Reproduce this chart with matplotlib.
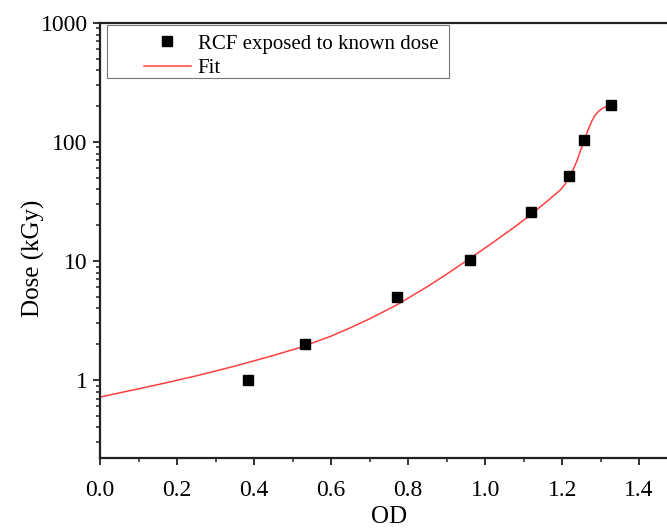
import numpy as np
import matplotlib
matplotlib.use('Agg')
import matplotlib.pyplot as plt
from matplotlib.ticker import FixedLocator, NullFormatter, LogLocator
from matplotlib.patches import Rectangle

plt.rcParams['font.family'] = ['Liberation Serif', 'DejaVu Serif']

# measured film points
od_points = [0.385, 0.532, 0.771, 0.961, 1.119, 1.218, 1.258, 1.327]
dose_points = [1.0, 2.0, 5.0, 10.3, 25.7, 51.8, 104, 205]

# fit curve
od_fit = [0.00, 0.05, 0.10, 0.17, 0.25, 0.35, 0.45, 0.52, 0.60, 0.65, 0.70,
          0.77, 0.85, 0.90, 0.96, 1.02, 1.08, 1.12, 1.16, 1.195, 1.207,
          1.218, 1.228, 1.238, 1.248, 1.258, 1.268, 1.277, 1.285, 1.295,
          1.305, 1.315, 1.327]
dose_fit = [0.72, 0.78, 0.845, 0.946, 1.086, 1.31, 1.61, 1.88, 2.34, 2.75,
            3.27, 4.27, 6.10, 7.76, 10.5, 14.3, 19.7, 24.8, 31.6, 39.5, 44.0,
            50.5, 58.0, 69.0, 85.0, 104, 128, 150, 167, 182,
            192, 199, 205]

fig = plt.figure(figsize=(6.67, 5.29), dpi=100)
ax = fig.add_axes([0.15, 0.134, 0.866, 0.8225])

ax.plot(od_fit, dose_fit, color='#ff4040', lw=1.1, label='Fit', zorder=2)
ax.plot(od_points, dose_points, 's', color='black', ms=7.2,
        label='RCF exposed to known dose', zorder=3)

ax.set_yscale('log')
ax.set_xlim(0, 1.5)
ax.set_ylim(0.221, 1000)

ax.set_xticks([0.0, 0.2, 0.4, 0.6, 0.8, 1.0, 1.2, 1.4])
ax.set_xticklabels(['0.0', '0.2', '0.4', '0.6', '0.8', '1.0', '1.2', '1.4'])
ax.xaxis.set_minor_locator(FixedLocator([0.1, 0.3, 0.5, 0.7, 0.9, 1.1, 1.3]))
ax.set_yticks([1, 10, 100, 1000])
ax.set_yticklabels(['1', '10', '100', '1000'])
ax.yaxis.set_minor_locator(LogLocator(base=10, subs=np.arange(2, 10)))
ax.yaxis.set_minor_formatter(NullFormatter())

ax.spines['right'].set_visible(False)
for s in ['left', 'bottom', 'top']:
    ax.spines[s].set_linewidth(1.6)
    ax.spines[s].set_color('#222222')

ax.tick_params(which='major', direction='out', length=5, width=1.3,
               labelsize=17, color='#222222')
ax.tick_params(axis='x', which='major', pad=11)
ax.tick_params(axis='y', which='major', pad=4)
ax.tick_params(which='minor', direction='out', length=3, width=1.1,
               color='#222222')
ax.tick_params(top=False, right=False, which='both')

ax.set_xlabel('OD', fontsize=18, labelpad=3)
ax.set_ylabel('Dose (kGy)', fontsize=18)
ax.yaxis.set_label_coords(-0.095, 0.46)

# legend with a fixed box like the original
box = Rectangle((0.0125, 0.873), 0.592, 0.122, transform=ax.transAxes,
                facecolor='white', edgecolor='#777777', lw=0.8, zorder=4)
ax.add_patch(box)
handles, labels = ax.get_legend_handles_labels()
leg = ax.legend(handles[::-1], labels[::-1], loc='upper left',
                bbox_to_anchor=(0.05, 1.008), frameon=False, fontsize=15,
                handlelength=2.3, handletextpad=0.3, labelspacing=0.25,
                borderpad=0.2)
leg.set_zorder(5)

fig.savefig('out.png', dpi=100)
